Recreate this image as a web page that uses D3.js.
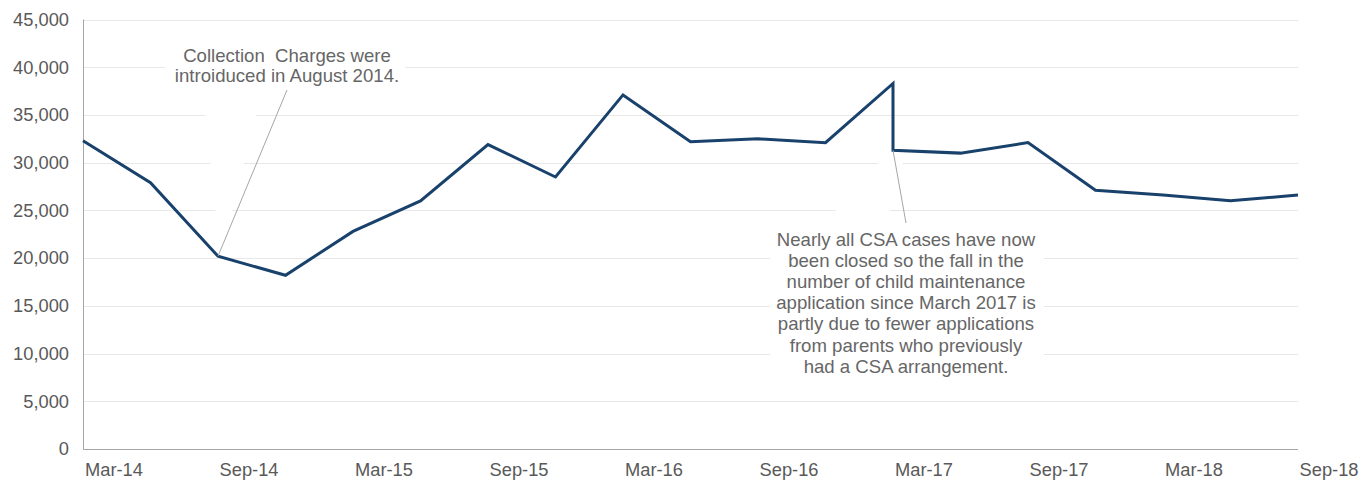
<!DOCTYPE html>
<html>
<head>
<meta charset="utf-8">
<script src="https://cdn.jsdelivr.net/npm/d3@7"></script>
<style>
  body { margin: 0; background: #fff; }
  svg text { font-family: "Liberation Sans", Arial, sans-serif; }
</style>
</head>
<body>
<svg id="chart" width="1361" height="481"></svg>
<script>
// Quarterly child maintenance applications
const quarters = ["Mar-14","Jun-14","Sep-14","Dec-14","Mar-15","Jun-15","Sep-15","Dec-15",
                  "Mar-16","Jun-16","Sep-16","Dec-16","Mar-17","Jun-17","Sep-17","Dec-17",
                  "Mar-18","Jun-18","Sep-18"];
// Mar-17 carries two readings, which draws the vertical step at that quarter
const pointQuarters = ["Mar-14","Jun-14","Sep-14","Dec-14","Mar-15","Jun-15","Sep-15","Dec-15",
                       "Mar-16","Jun-16","Sep-16","Dec-16","Mar-17","Mar-17","Jun-17","Sep-17",
                       "Dec-17","Mar-18","Jun-18","Sep-18"];
const applications = [32300,27900,20200,18200,22800,26000,31900,28500,
                      37100,32200,32500,32100,38300,31300,31000,32100,
                      27100,26600,26000,26600];
const xTickLabels = ["Mar-14","Sep-14","Mar-15","Sep-15","Mar-16","Sep-16","Mar-17","Sep-17","Mar-18","Sep-18"];
const yTicks = [0,5000,10000,15000,20000,25000,30000,35000,40000,45000];

const noteCharges = ["Collection  Charges were", "introiduced in August 2014."];
const noteChargesAt = 2;   // index into pointQuarters (Sep-14)
const noteCsa = ["Nearly all CSA cases have now", "been closed so the fall in the",
                 "number of child maintenance", "application since March 2017 is",
                 "partly due to fewer applications", "from parents who previously",
                 "had a CSA arrangement."];
const noteCsaAt = 13;      // index into pointQuarters (Mar-17, after the fall)

const svg = d3.select("#chart");
const plotLeft = 83, plotRight = 1298, plotTop = 19.5, plotBottom = 449;

const x = d3.scalePoint().domain(quarters).range([plotLeft, plotRight]);
const y = d3.scaleLinear().domain([0, 45000]).range([plotBottom, plotTop]);

// horizontal gridlines
svg.append("g")
  .selectAll("line")
  .data(yTicks.filter(d => d > 0))
  .join("line")
  .attr("x1", plotLeft).attr("x2", plotRight)
  .attr("y1", d => Math.round(y(d)) + 0.5).attr("y2", d => Math.round(y(d)) + 0.5)
  .attr("stroke", "#e8e8e8").attr("stroke-width", 1);

// white callout bodies and wedges that mask the gridlines
const p1 = [x(pointQuarters[noteChargesAt]), y(applications[noteChargesAt])];
const p2 = [x(pointQuarters[noteCsaAt]), y(applications[noteCsaAt])];
const mask = svg.append("g").attr("fill", "#fff");
mask.append("rect").attr("x", 165).attr("y", 40).attr("width", 240).attr("height", 50);
mask.append("polygon").attr("points", [
  [p1[0] + 2, p1[1]], [p1[0] - 15, 90], [p1[0] + 45, 90]
].map(p => p.join(",")).join(" "));
mask.append("rect").attr("x", 770).attr("y", 227).attr("width", 274).attr("height", 158);
mask.append("polygon").attr("points", [
  [p2[0] - 3, p2[1]], [p2[0] + 12, p2[1] + 5], [p2[0] - 8, 228], [p2[0] - 73, 228]
].map(p => p.join(",")).join(" "));

// y axis
const yAxis = svg.append("g")
  .attr("transform", `translate(${plotLeft},0)`)
  .call(d3.axisLeft(y).tickValues(yTicks).tickSize(0).tickPadding(14)
          .tickFormat(d3.format(",")));
yAxis.select(".domain").attr("stroke", "#a6a6a6").attr("d", `M0.5,${plotTop}V${plotBottom}`);
yAxis.selectAll("text").attr("fill", "#595959").style("font-size", "18.3px");

// x axis
const xAxis = svg.append("g")
  .attr("transform", `translate(0,${plotBottom})`)
  .call(d3.axisBottom(x).tickValues(xTickLabels).tickSize(0).tickPadding(15));
xAxis.select(".domain").attr("stroke", "#a6a6a6").attr("d", `M${plotLeft},0.5H${plotRight}`);
xAxis.selectAll("text").attr("fill", "#595959").style("font-size", "18.3px")
  .attr("dx", 30.5).attr("dy", "0.68em");

// data line
const series = pointQuarters.map((q, i) => ({ q, v: applications[i] }));
svg.append("path")
  .datum(series)
  .attr("fill", "none")
  .attr("stroke", "#18416c")
  .attr("stroke-width", 3)
  .attr("stroke-linejoin", "miter")
  .attr("d", d3.line().x(d => x(d.q)).y(d => y(d.v)));

// leader lines
svg.append("line")
  .attr("x1", p1[0]).attr("y1", p1[1]).attr("x2", 287).attr("y2", 90)
  .attr("stroke", "#a6a6a6").attr("stroke-width", 1);
svg.append("line")
  .attr("x1", p2[0]).attr("y1", p2[1]).attr("x2", 906).attr("y2", 223)
  .attr("stroke", "#a6a6a6").attr("stroke-width", 1);

// annotation texts
svg.append("text")
  .attr("x", 287).attr("y", 62)
  .attr("text-anchor", "middle").attr("fill", "#666").style("font-size", "18.6px")
  .style("white-space", "pre")
  .selectAll("tspan").data(noteCharges).join("tspan")
  .attr("x", 287).attr("dy", (d, i) => i === 0 ? 0 : 20)
  .text(d => d);

svg.append("text")
  .attr("x", 906).attr("y", 246)
  .attr("text-anchor", "middle").attr("fill", "#666").style("font-size", "18.6px")
  .selectAll("tspan").data(noteCsa).join("tspan")
  .attr("x", 906).attr("dy", (d, i) => i === 0 ? 0 : 21.1)
  .text(d => d);
</script>
</body>
</html>
